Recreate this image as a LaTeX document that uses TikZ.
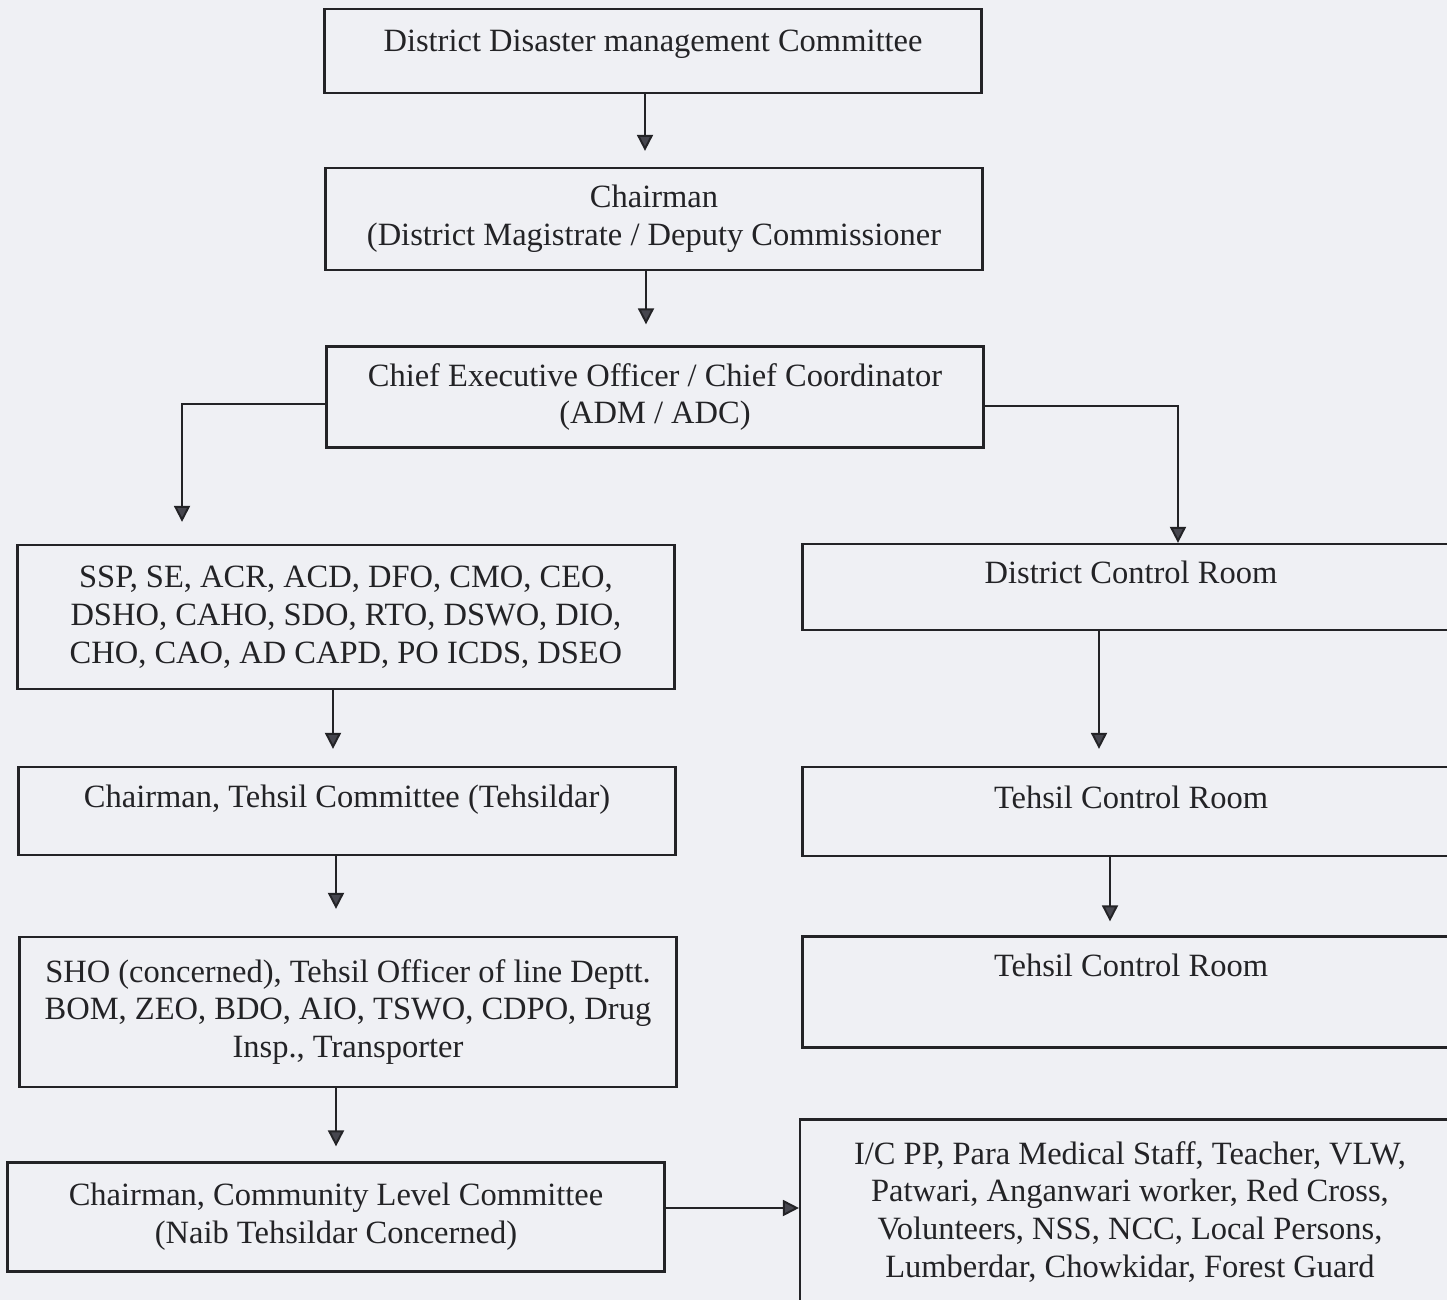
\documentclass[tikz,border=0pt]{standalone}
\usepackage{fontspec}
\setmainfont{Liberation Serif}
\usepackage{xcolor}
\usepackage{tikz}
\usetikzlibrary{arrows.meta, positioning, calc}
\definecolor{papercolor}{RGB}{239, 240, 244}
\definecolor{inkcolor}{RGB}{35, 35, 38}
\definecolor{tipcolor}{RGB}{70, 70, 78}

\begin{document}
\begin{tikzpicture}[
    x=0.02cm, y=-0.02cm,
    box/.style={draw=inkcolor, line width=1.3pt, fill=papercolor, rectangle, minimum width=13.14cm, align=center, text=inkcolor, inner sep=0pt, font=\fontsize{18.5}{21.6}\selectfont},
    uptext/.style={text depth=#1},
    arrow/.style={draw=inkcolor, line width=1.1pt, -{Triangle[width=0.32cm, length=0.32cm, fill=tipcolor]}}
]
    \fill[papercolor] (0,0) rectangle (1447,1300);
    \useasboundingbox (0,0) rectangle (1447,1300);

    % District level
    \node[box, minimum height=1.68cm, uptext=0.42cm] (ddmc) at (653,51) {District Disaster management Committee};
    \node[box, minimum height=2.04cm] (chair) at (654,219) {Chairman\\(District Magistrate / Deputy Commissioner};
    \node[box, minimum height=2.02cm] (ceo) at (655,397) {Chief Executive Officer / Chief Coordinator\\(ADM / ADC)};

    % Left column
    \node[box, minimum height=2.88cm] (ssp) at (346,617) {SSP, SE, ACR, ACD, DFO, CMO, CEO,\\DSHO, CAHO, SDO, RTO, DSWO, DIO,\\CHO, CAO, AD CAPD, PO ICDS, DSEO};
    \node[box, minimum height=1.76cm, uptext=0.58cm] (chairt) at (347,811) {Chairman, Tehsil Committee (Tehsildar)};
    \node[box, minimum height=3.0cm] (sho) at (348,1012) {SHO (concerned), Tehsil Officer of line Deptt.\\BOM, ZEO, BDO, AIO, TSWO, CDPO, Drug\\Insp., Transporter};
    \node[box, minimum height=2.18cm] (comm) at (336,1217) {Chairman, Community Level Committee\\(Naib Tehsildar Concerned)};

    % Right column
    \node[box, minimum height=1.72cm, uptext=0.58cm] (dcr) at (1131,587) {District Control Room};
    \node[box, minimum height=1.78cm, uptext=0.58cm] (tcr) at (1131,811.5) {Tehsil Control Room};
    \node[box, minimum height=2.22cm, uptext=1.06cm] (tcr2) at (1131,992) {Tehsil Control Room};
    \node[box, minimum width=13.2cm, minimum height=3.7cm] (ic) at (1130,1212) {I/C PP, Para Medical Staff, Teacher, VLW,\\Patwari, Anganwari worker, Red Cross,\\Volunteers, NSS, NCC, Local Persons,\\Lumberdar, Chowkidar, Forest Guard};

    % Arrows
    \draw[arrow, shorten >=0.32cm] ([xshift=-0.16cm]ddmc.south) -- ([xshift=-0.16cm]ddmc.south |- chair.north);
    \draw[arrow, shorten >=0.42cm] ([xshift=-0.16cm]chair.south) -- ([xshift=-0.16cm]chair.south |- ceo.north);
    \draw[arrow, shorten >=0.44cm] ([yshift=-0.14cm]ceo.west) -| ([xshift=-3.28cm]ssp.north);
    \draw[arrow] ([yshift=-0.18cm]ceo.east) -| ([xshift=0.94cm]dcr.north);
    \draw[arrow, shorten >=0.34cm] ([xshift=-0.26cm]ssp.south) -- ([xshift=-0.26cm]ssp.south |- chairt.north);
    \draw[arrow, shorten >=0.54cm] ([xshift=-0.22cm]chairt.south) -- ([xshift=-0.22cm]chairt.south |- sho.north);
    \draw[arrow, shorten >=0.30cm] ([xshift=-0.24cm]sho.south) -- ([xshift=-0.24cm]sho.south |- comm.north);
    \draw[arrow, shorten >=0.34cm] ([xshift=-0.64cm]dcr.south) -- ([xshift=-0.64cm]dcr.south |- tcr.north);
    \draw[arrow, shorten >=0.28cm] ([xshift=-0.42cm]tcr.south) -- ([xshift=-0.42cm]tcr.south |- tcr2.north);
    \draw[arrow] ([yshift=0.18cm]comm.east) -- ([yshift=0.18cm]comm.east -| ic.west);
\end{tikzpicture}
\end{document}
